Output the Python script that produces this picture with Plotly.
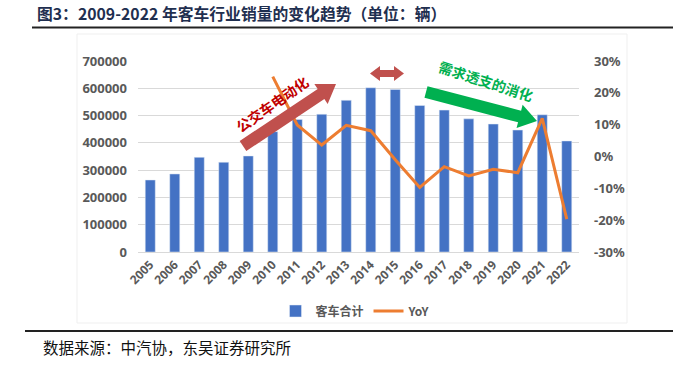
import plotly.graph_objects as go
import math

years = [str(y) for y in range(2005, 2023)]
sales = [264000, 286000, 347000, 329000, 352000, 441000, 486000, 505000, 556000,
         602000, 596000, 537000, 520000, 488000, 469000, 447000, 503000, 407000]
yoy = [None, None, None, None, None, 25.1, 9.9, 3.6, 9.8,
       8.1, -1.0, -9.7, -3.2, -6.1, -4.0, -5.1, 12.0, -19.7]
left_ticks = [0, 100000, 200000, 300000, 400000, 500000, 600000, 700000]
right_ticks = [-30, -20, -10, 0, 10, 20, 30]

W, H = 695, 366
L, R, T, B = 138, 579, 61, 252

def px(x):
    return (x - L) / (R - L)

def py(y):
    return (B - y) / (B - T)

def arrow_path(x0, y0, x1, y1, sw, hw, hl):
    dx, dy = x1 - x0, y1 - y0
    ln = math.hypot(dx, dy)
    ux, uy = dx / ln, dy / ln
    nx, ny = -uy, ux
    bx, by = x1 - ux * hl, y1 - uy * hl
    pts = [
        (x0 + nx * sw / 2, y0 + ny * sw / 2),
        (bx + nx * sw / 2, by + ny * sw / 2),
        (bx + nx * hw / 2, by + ny * hw / 2),
        (x1, y1),
        (bx - nx * hw / 2, by - ny * hw / 2),
        (bx - nx * sw / 2, by - ny * sw / 2),
        (x0 - nx * sw / 2, y0 - ny * sw / 2),
    ]
    return "M " + " L ".join(f"{px(a):.5f},{py(b):.5f}" for a, b in pts) + " Z"

def double_arrow(x0, x1, yc, sw, hw, hl):
    pts = [
        (x0, yc), (x0 + hl, yc - hw / 2), (x0 + hl, yc - sw / 2),
        (x1 - hl, yc - sw / 2), (x1 - hl, yc - hw / 2), (x1, yc),
        (x1 - hl, yc + hw / 2), (x1 - hl, yc + sw / 2),
        (x0 + hl, yc + sw / 2), (x0 + hl, yc + hw / 2),
    ]
    return "M " + " L ".join(f"{px(a):.5f},{py(b):.5f}" for a, b in pts) + " Z"

tickfont = dict(family="Noto Sans, Noto Sans CJK SC", size=13, color="#595959", weight="bold")

fig = go.Figure()
fig.add_trace(go.Bar(x=years, y=sales, name="客车合计", marker_color="#4472C4",
                     yaxis="y"))
fig.add_trace(go.Scatter(x=years, y=yoy, name="YoY", mode="lines",
                         line=dict(color="#ED7D31", width=3), yaxis="y2"))

shapes = [
    dict(type="rect", xref="paper", yref="paper", x0=px(77), x1=px(627), y0=py(323), y1=py(34),
         line=dict(color="#EFEFEF", width=1), layer="below"),
    dict(type="line", xref="paper", yref="paper", x0=px(32), x1=px(673), y0=py(27.5), y1=py(27.5),
         line=dict(color="#222222", width=2)),
    dict(type="line", xref="paper", yref="paper", x0=px(25), x1=px(673), y0=py(331), y1=py(331),
         line=dict(color="#222222", width=2)),
    dict(type="path", xref="paper", yref="paper", path=arrow_path(243, 146, 336, 84, 12, 24, 18),
         fillcolor="#C0504D", line=dict(width=0)),
    dict(type="path", xref="paper", yref="paper", path=arrow_path(426, 92, 537, 121, 12, 24, 18),
         fillcolor="#00B050", line=dict(width=0)),
    dict(type="path", xref="paper", yref="paper", path=double_arrow(370, 404, 73.5, 7, 15, 10),
         fillcolor="#C0504D", line=dict(width=0)),
]

annotations = [
    dict(text="图3：2009-2022 年客车行业销量的变化趋势（单位：辆）", xref="paper", yref="paper",
         x=px(35), y=py(14), xanchor="left", yanchor="middle", showarrow=False,
         font=dict(family="Noto Sans CJK SC", size=15.8, color="#1F2F50", weight="bold")),
    dict(text="数据来源：中汽协，东吴证券研究所", xref="paper", yref="paper",
         x=px(41), y=py(347), xanchor="left", yanchor="middle", showarrow=False,
         font=dict(family="Noto Sans CJK SC", size=15.5, color="#111111")),
    dict(text="公交车电动化", xref="paper", yref="paper", x=px(272), y=py(104),
         xanchor="center", yanchor="middle", showarrow=False, textangle=-35,
         font=dict(family="Noto Sans CJK SC", size=14, color="#C00000", weight="bold")),
    dict(text="需求透支的消化", xref="paper", yref="paper", x=px(486), y=py(81),
         xanchor="center", yanchor="middle", showarrow=False, textangle=18,
         font=dict(family="Noto Sans CJK SC", size=14, color="#00B050", weight="bold")),
]

fig.update_layout(
    width=W, height=H,
    margin=dict(l=L, r=W - R, t=T, b=H - B, pad=0, autoexpand=False),
    paper_bgcolor="white", plot_bgcolor="white",
    bargap=0.59,
    showlegend=True,
    legend=dict(orientation="h", xref="container", yref="container",
                x=356 / W, y=1 - 311 / H, xanchor="center", yanchor="middle",
                font=dict(family="Noto Sans CJK SC", size=12, color="#595959", weight="bold"),
                itemwidth=30, tracegroupgap=0, bgcolor="rgba(0,0,0,0)"),
    xaxis=dict(type="category", tickangle=-45, tickfont=dict(tickfont, size=12),
               showgrid=False, showline=True, linecolor="#D9D9D9", ticks="", automargin=False),
    yaxis=dict(range=[0, 700000], tickvals=left_ticks, ticktext=[str(v) for v in left_ticks],
               tickfont=tickfont, gridcolor="#D9D9D9", gridwidth=1, zeroline=False,
               showline=False, ticks="", ticklabelstandoff=10, automargin=False),
    yaxis2=dict(range=[-30, 30], overlaying="y", side="right", tickvals=right_ticks,
                ticktext=[f"{v}%" for v in right_ticks], tickfont=tickfont,
                showgrid=False, zeroline=False, showline=False, ticks="", ticklabelstandoff=14,
                automargin=False),
    shapes=shapes,
    annotations=annotations,
)

fig.write_html("out.html", config={"displayModeBar": False},
               post_script="document.body.style.margin='0';")
